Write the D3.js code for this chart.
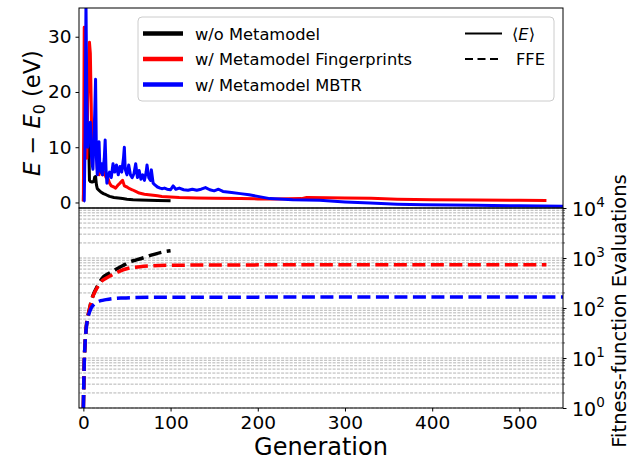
<!DOCTYPE html>
<html>
<head>
<meta charset="utf-8">
<script src="https://cdn.jsdelivr.net/npm/d3@7"></script>
<style>
  body { margin: 0; background: #fff; }
  text { font-family: "DejaVu Sans", sans-serif; }
</style>
</head>
<body>
<div id="chart"></div>
<script>
// <E> - E0 per generation (eV)
const genNoMeta = [0, 1, 2, 3, 4, 5, 6, 7, 8, 10, 12, 13, 14, 15, 16, 18, 20, 23, 26, 30, 35, 40, 45, 50, 57, 65, 75, 85, 100];
const eNoMeta   = [0.2, 10, 16, 22.7, 9, 12, 12.2, 4, 3.8, 3.7, 3.8, 4.6, 4.7, 3.2, 2.5, 2.2, 1.9, 1.6, 1.4, 1.1, 0.9, 0.8, 0.7, 0.6, 0.5, 0.45, 0.4, 0.35, 0.3];

const genFP = [0, 1, 2, 3, 4, 5, 6, 7, 8, 9, 10, 11, 12, 13, 14, 15, 16, 17, 18, 19, 20, 22, 24, 26, 28, 30, 32, 35, 37, 40, 42, 45, 47, 50, 53, 56, 60, 64, 70, 75, 80, 85, 90, 100, 110, 120, 130, 150, 180, 200, 220, 250, 256, 280, 300, 330, 360, 400, 450, 500, 531];
const eFP   = [0.2, 31.7, 20, 10, 8, 18, 24, 29, 27, 18, 7, 9, 14, 12.5, 9, 10.8, 6, 7, 5, 6, 6, 5, 5.5, 4.5, 4.5, 3.5, 3, 2.8, 2.6, 3.2, 3.5, 4, 3, 2.8, 2.5, 2.3, 2, 1.7, 1.5, 1.4, 1.3, 1.2, 1.1, 1.0, 0.9, 0.85, 0.8, 0.75, 0.7, 0.65, 0.65, 0.7, 0.9, 0.85, 0.8, 0.75, 0.6, 0.5, 0.45, 0.4, 0.35];

const genMBTR = [0, 1, 2, 3, 4, 5, 6, 7, 8, 9, 10, 11, 12, 13, 14, 15, 16, 17, 18, 19, 20, 21, 22, 23, 24, 25, 26, 27, 28, 30, 32, 34, 36, 38, 40, 42, 44, 46, 47, 48, 50, 52, 54, 56, 58, 60, 62, 64, 66, 68, 70, 72, 73, 75, 77, 78, 80, 82, 85, 88, 90, 93, 96, 100, 103, 106, 110, 115, 120, 125, 130, 135, 140, 145, 150, 155, 160, 170, 180, 190, 200, 214, 240, 271, 300, 329, 360, 390, 450, 500, 550];
const eMBTR   = [0.2, 0.3, 12, 36, 18, 10, 14, 13, 14.5, 9, 7, 6, 11, 16, 22.3, 8, 5, 8, 11, 6, 5.5, 7, 5, 6.5, 8, 11.3, 6, 3.5, 4.5, 5.5, 4.5, 7, 5.5, 6.8, 5, 6.5, 5.5, 8, 10, 6, 5, 6.8, 5, 4.5, 5.2, 7, 4.5, 5.8, 4.2, 5, 4, 5.5, 6.8, 4.5, 4, 5.9, 3.5, 3.2, 2.8, 2.6, 2.5, 2.6, 2.4, 2.3, 3, 2.4, 2.6, 2.3, 2.2, 2.4, 2.2, 2.4, 2.7, 2.3, 2.1, 2.4, 2.0, 1.8, 1.6, 1.4, 1.1, 0.7, 0.5, 0.4, 0.1, -0.1, -0.3, -0.4, -0.5, -0.6, -0.7];

// cumulative fitness-function evaluations
const ffeGenNoMeta = [0, 1, 2, 3, 5, 7, 9, 12, 15, 20, 22, 30, 37, 45, 53, 60, 68, 80, 95, 100];
const ffeNoMeta    = [1, 8, 20, 36, 65, 95, 135, 195, 250, 360, 400, 500, 585, 700, 830, 910, 1000, 1170, 1360, 1400];

const ffeGenFP = [0, 1, 2, 3, 5, 7, 9, 12, 15, 20, 25, 30, 40, 53, 65, 80, 100, 150, 250, 531];
const ffeFP    = [1, 8, 20, 36, 65, 95, 135, 190, 240, 330, 385, 430, 530, 630, 670, 700, 715, 725, 730, 732];

const ffeGenMBTR = [0, 1, 2, 3, 5, 7, 9, 12, 15, 20, 26, 35, 45, 60, 100, 200, 550];
const ffeMBTR    = [1, 8, 20, 35, 62, 82, 100, 118, 128, 140, 147, 155, 159, 162, 164, 165, 166];

const xTicks = [0, 100, 200, 300, 400, 500];
const eTicks = [0, 10, 20, 30];
const ffeTicks = [1, 10, 100, 1000, 10000];

const W = 643, H = 461;
const pLeft = 79, pRight = 563, pTop = 8, pMid = 208, pBottom = 408;

const svg = d3.select('#chart').append('svg')
  .attr('width', W).attr('height', H);

const x = d3.scaleLinear().domain([-5, 550]).range([pLeft, pRight]);
const yTop = d3.scaleLinear().domain([-1, 35.2]).range([pMid, pTop]);
const yBot = d3.scaleLog().domain([1, 1e4]).range([pBottom, pMid]);

const defs = svg.append('defs');
defs.append('clipPath').attr('id', 'clipTop').append('rect')
  .attr('x', pLeft).attr('y', pTop).attr('width', pRight - pLeft).attr('height', pMid - pTop);
defs.append('clipPath').attr('id', 'clipBot').append('rect')
  .attr('x', pLeft).attr('y', pMid).attr('width', pRight - pLeft).attr('height', pBottom - pMid);

// grid lines on the log panel (major and minor decades)
const gridVals = [];
for (let k = 0; k < 4; k++) {
  for (let m = 1; m < 10; m++) gridVals.push(m * Math.pow(10, k));
}
gridVals.push(1e4);
svg.append('g').selectAll('line').data(gridVals).enter().append('line')
  .attr('x1', pLeft).attr('x2', pRight)
  .attr('y1', d => yBot(d)).attr('y2', d => yBot(d))
  .attr('stroke', '#a0a0a0').attr('stroke-width', 0.8)
  .attr('stroke-dasharray', '3,1.3');

// top panel: <E>
const line = d3.line().x(d => x(d[0])).y(d => yTop(d[1]));
const topSeries = [
  { g: genNoMeta, v: eNoMeta, c: '#000000' },
  { g: genFP, v: eFP, c: '#ff0000' },
  { g: genMBTR, v: eMBTR, c: '#0000ff' }
];
const gTop = svg.append('g').attr('clip-path', 'url(#clipTop)');
topSeries.forEach(s => {
  gTop.append('path')
    .attr('d', line(s.g.map((g, i) => [g, s.v[i]])))
    .attr('fill', 'none').attr('stroke', s.c)
    .attr('stroke-width', 3).attr('stroke-linejoin', 'round');
});

// bottom panel: FFE
const lineLog = d3.line().x(d => x(d[0])).y(d => yBot(d[1])).curve(d3.curveMonotoneX);
const botSeries = [
  { g: ffeGenNoMeta, v: ffeNoMeta, c: '#000000' },
  { g: ffeGenFP, v: ffeFP, c: '#ff0000' },
  { g: ffeGenMBTR, v: ffeMBTR, c: '#0000ff' }
];
const gBot = svg.append('g').attr('clip-path', 'url(#clipBot)');
botSeries.forEach(s => {
  gBot.append('path')
    .attr('d', lineLog(s.g.map((g, i) => [g, s.v[i]])))
    .attr('fill', 'none').attr('stroke', s.c)
    .attr('stroke-width', 3.5).attr('stroke-dasharray', '13,5.5');
});

// frames
svg.append('rect').attr('x', pLeft).attr('y', pTop).attr('width', pRight - pLeft).attr('height', pMid - pTop)
  .attr('fill', 'none').attr('stroke', '#000').attr('stroke-width', 1);
svg.append('rect').attr('x', pLeft).attr('y', pMid).attr('width', pRight - pLeft).attr('height', pBottom - pMid)
  .attr('fill', 'none').attr('stroke', '#000').attr('stroke-width', 1);

// axes
const styleAxis = g => {
  g.select('.domain').remove();
  g.selectAll('.tick line').attr('stroke', '#000');
  g.selectAll('.tick text').attr('fill', '#000')
    .style('font-family', '"DejaVu Sans", sans-serif').style('font-size', '18.5px');
};

svg.append('g').attr('transform', `translate(0,${pBottom})`)
  .call(d3.axisBottom(x).tickValues(xTicks).tickSize(3.5).tickPadding(4))
  .call(styleAxis);

svg.append('g').attr('transform', `translate(${pLeft},0)`)
  .call(d3.axisLeft(yTop).tickValues(eTicks).tickSize(3.5).tickPadding(4))
  .call(styleAxis);

const yRight = svg.append('g').attr('transform', `translate(${pRight},0)`)
  .call(d3.axisRight(yBot).tickValues(ffeTicks).tickSize(3.5).tickFormat(''))
  .call(styleAxis);
yRight.selectAll('.minor').data(gridVals.filter(v => !ffeTicks.includes(v))).enter()
  .append('line').attr('class', 'minor')
  .attr('x1', 0).attr('x2', 2).attr('y1', d => yBot(d)).attr('y2', d => yBot(d))
  .attr('stroke', '#000').attr('stroke-width', 0.6);
const rLab = yRight.selectAll('.lab').data(ffeTicks).enter().append('text')
  .attr('class', 'lab')
  .attr('x', 9).attr('y', d => yBot(d) + 8)
  .attr('fill', '#000').attr('text-anchor', 'start')
  .style('font-size', '19px');
rLab.append('tspan').text('10');
rLab.append('tspan').attr('dy', -9).style('font-size', '13.5px').text(d => Math.round(Math.log10(d)));

// axis titles
svg.append('text').attr('x', 321).attr('y', 455).attr('text-anchor', 'middle')
  .style('font-size', '24px').text('Generation');

const yl = svg.append('text')
  .attr('transform', 'translate(40,113) rotate(-90)')
  .attr('text-anchor', 'middle').style('font-size', '22.5px');
yl.append('tspan').style('font-style', 'italic').text('E');
yl.append('tspan').text(' \u2212 ');
yl.append('tspan').style('font-style', 'italic').text('E');
yl.append('tspan').attr('dy', 5).style('font-size', '16px').text('0');
yl.append('tspan').attr('dy', -5).text(' (eV)');

svg.append('text')
  .attr('transform', 'translate(626,311) rotate(-90)')
  .attr('text-anchor', 'middle').style('font-size', '19.5px')
  .text('Fitness-function Evaluations');

// legend
const lg = svg.append('g');
lg.append('rect').attr('x', 138).attr('y', 17).attr('width', 416).attr('height', 84)
  .attr('rx', 4).attr('fill', '#fff').attr('fill-opacity', 0.8)
  .attr('stroke', '#cccccc').attr('stroke-width', 1);
const legItems = [
  { label: 'w/o Metamodel', c: '#000000' },
  { label: 'w/ Metamodel Fingerprints', c: '#ff0000' },
  { label: 'w/ Metamodel MBTR', c: '#0000ff' }
];
const rowY = [33.5, 59, 84.5];
legItems.forEach((d, i) => {
  lg.append('line').attr('x1', 143).attr('x2', 183).attr('y1', rowY[i]).attr('y2', rowY[i])
    .attr('stroke', d.c).attr('stroke-width', 4.5);
  lg.append('text').attr('x', 195).attr('y', rowY[i] + 6).style('font-size', '16.3px').text(d.label);
});
lg.append('line').attr('x1', 465).attr('x2', 502).attr('y1', rowY[0]).attr('y2', rowY[0])
  .attr('stroke', '#000').attr('stroke-width', 1.8);
lg.append('line').attr('x1', 465).attr('x2', 502).attr('y1', rowY[1]).attr('y2', rowY[1])
  .attr('stroke', '#000').attr('stroke-width', 1.8).attr('stroke-dasharray', '8,4.5');
const eLab = lg.append('text').attr('x', 512).attr('y', rowY[0] + 6).style('font-size', '16.3px');
eLab.append('tspan').text('\u27E8');
eLab.append('tspan').style('font-style', 'italic').text('E');
eLab.append('tspan').text('\u27E9');
lg.append('text').attr('x', 516).attr('y', rowY[1] + 6).style('font-size', '16.3px').text('FFE');
</script>
</body>
</html>
